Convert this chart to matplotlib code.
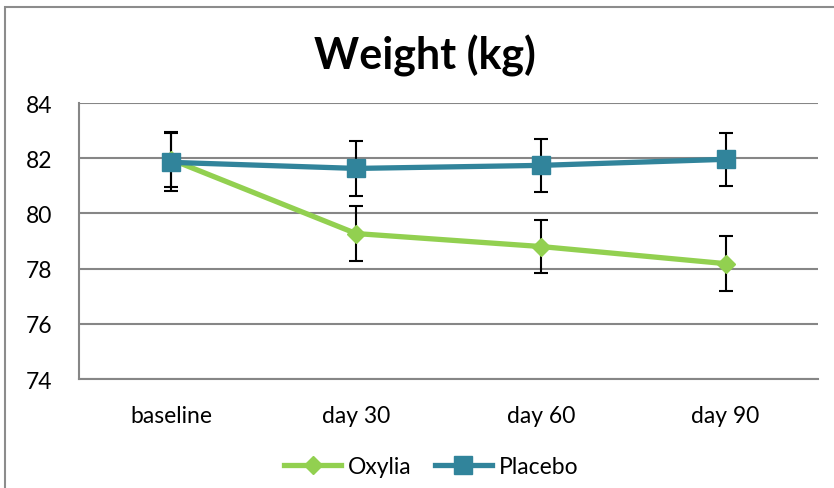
import numpy as np
import matplotlib.pyplot as plt
from matplotlib.patches import Rectangle

plt.rcParams['font.family'] = ['Lato', 'DejaVu Sans']

categorias = ['baseline', 'day 30', 'day 60', 'day 90']
oxylia = [81.95, 79.27, 78.8, 78.18]
oxylia_erro = [1.0, 1.0, 0.97, 1.0]
placebo = [81.85, 81.63, 81.74, 81.96]
placebo_erro = [1.05, 1.0, 0.97, 0.97]

verde = '#92D050'
azul = '#31849B'

x = np.arange(len(categorias)) + 0.5

fig = plt.figure(figsize=(8.34, 4.89), dpi=100)
ax = fig.add_axes([0.0947, 0.2229, 0.886, 0.5644])

# borda externa do gráfico
fig.patches.append(Rectangle((5 / 834, -0.1), 1.2, 1 - 8 / 489 + 0.1,
                             transform=fig.transFigure, fill=False,
                             edgecolor='#8c8c8c', linewidth=1.5))

ax.errorbar(x, oxylia, yerr=oxylia_erro, fmt='none', ecolor='black',
            elinewidth=1.5, capsize=5, capthick=1.5, zorder=3)
ax.errorbar(x, placebo, yerr=placebo_erro, fmt='none', ecolor='black',
            elinewidth=1.5, capsize=5, capthick=1.5, zorder=3)
ax.plot(x, oxylia, '-D', color=verde, linewidth=3.8, markersize=9,
        label='Oxylia', zorder=4)
ax.plot(x, placebo, '-s', color=azul, linewidth=3.8, markersize=13,
        label='Placebo', zorder=5)

ax.set_xlim(0, 4)
ax.set_ylim(74, 84)
ax.set_yticks(np.arange(74, 85, 2))
ax.set_xticks(x)
ax.set_xticklabels(categorias)
ax.tick_params(axis='both', length=0, labelsize=16.5)
ax.tick_params(axis='y', pad=19)
ax.tick_params(axis='x', pad=19)
ax.yaxis.grid(True, color='#868686', linewidth=1.5)
ax.set_axisbelow(True)
for lado in ['top', 'right']:
    ax.spines[lado].set_visible(False)
ax.spines['left'].set_color('#868686')
ax.spines['left'].set_linewidth(1.5)
ax.spines['bottom'].set_color('#868686')
ax.spines['bottom'].set_linewidth(1.5)

fig.text(0.51, 0.885, 'Weight (kg)', ha='center', va='center',
         fontsize=31, fontweight='bold')

fig.legend(loc='center', bbox_to_anchor=(0.517, 0.043), ncol=2, frameon=False,
           fontsize=16.5, handlelength=2.5, columnspacing=1.0, handletextpad=0.3)

plt.savefig('out.png', dpi=100)
